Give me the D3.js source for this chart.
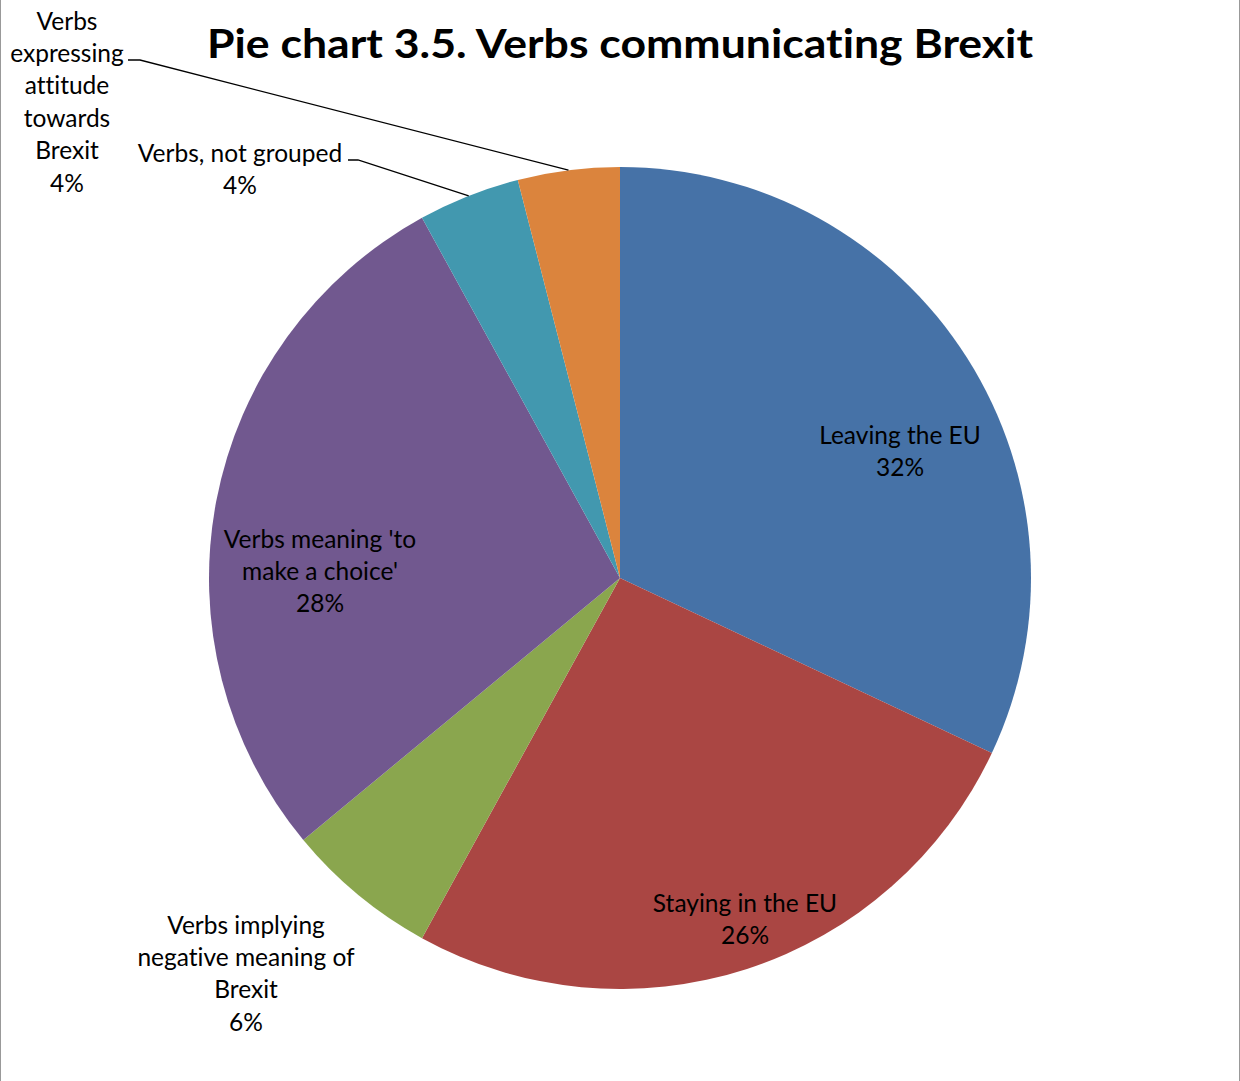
<!DOCTYPE html>
<html>
<head>
<meta charset="utf-8">
<script src="https://cdn.jsdelivr.net/npm/d3@7"></script>
<style>
  html, body { margin: 0; padding: 0; background: #fff; }
  svg { display: block; }
  text { font-family: Lato, "Open Sans", sans-serif; fill: #000;
         font-variant-ligatures: none; font-feature-settings: "liga" 0, "dlig" 0; }
</style>
</head>
<body>
<svg id="chart" width="1240" height="1081"></svg>
<script>
// Category names, shares (percent) and slice colours, in clockwise order from 12 o'clock
const categories = [
  "Leaving the EU",
  "Staying in the EU",
  "Verbs implying negative meaning of Brexit",
  "Verbs meaning 'to make a choice'",
  "Verbs, not grouped",
  "Verbs expressing attitude towards Brexit"
];
const shares = [32, 26, 6, 28, 4, 4];
const colors = ["#4672A7", "#AA4643", "#8AA64E", "#71588F", "#4298AF", "#DB843D"];

// Label text lines for each slice (the percentage is added as the last line)
const labelLines = [
  ["Leaving the EU"],
  ["Staying in the EU"],
  ["Verbs implying", "negative meaning of", "Brexit"],
  ["Verbs meaning 'to", "make a choice'"],
  ["Verbs, not grouped"],
  ["Verbs", "expressing", "attitude", "towards", "Brexit"]
];
// Label anchor (centre of first line) for each slice
const labelPos = [
  [900, 434], [745, 902], [246, 924], [320, 538], [240, 152], [67, 20]
];

const W = 1240, H = 1081;
const cx = 620, cy = 578, R = 411;
const lineH = 32.4;

const svg = d3.select("#chart");

// frame edges
svg.append("line").attr("x1", 0.5).attr("x2", 0.5).attr("y1", 0).attr("y2", H)
  .attr("stroke", "#999").attr("stroke-width", 1);
svg.append("line").attr("x1", W - 0.5).attr("x2", W - 0.5).attr("y1", 0).attr("y2", H)
  .attr("stroke", "#999").attr("stroke-width", 1);

// title
svg.append("text")
  .attr("x", 620).attr("y", 43)
  .attr("text-anchor", "middle").attr("dominant-baseline", "central")
  .attr("font-weight", "bold").attr("font-size", 40)
  .attr("textLength", 826).attr("lengthAdjust", "spacingAndGlyphs")
  .text("Pie chart 3.5. Verbs communicating Brexit");

const pie = d3.pie().sort(null).value(d => d)
  .startAngle(0).endAngle(2 * Math.PI);
const arcs = pie(shares);
const arc = d3.arc().innerRadius(0).outerRadius(R);

const g = svg.append("g").attr("transform", `translate(${cx},${cy})`);
g.selectAll("path.slice")
  .data(arcs)
  .join("path")
  .attr("class", "slice")
  .attr("d", arc)
  .attr("fill", (d, i) => colors[i]);

// leader lines for the two small outside labels
const edgePoint = (a, r) => [cx + r * Math.sin(a), cy - r * Math.cos(a)];
const leaders = [
  { i: 5, start: [128, 60], elbow: [140, 60] },
  { i: 4, start: [348, 160], elbow: [358, 160] }
];
leaders.forEach(L => {
  const a = (arcs[L.i].startAngle + arcs[L.i].endAngle) / 2;
  const p = edgePoint(a, R);
  svg.append("polyline")
    .attr("points", [L.start, L.elbow, p].map(q => q.join(",")).join(" "))
    .attr("fill", "none").attr("stroke", "#000").attr("stroke-width", 1.3);
});

// data labels
labelPos.forEach((pos, i) => {
  const lines = labelLines[i].concat([shares[i] + "%"]);
  const t = svg.append("text")
    .attr("text-anchor", "middle")
    .attr("font-size", 24.5);
  lines.forEach((ln, k) => {
    t.append("tspan")
      .attr("x", pos[0])
      .attr("y", pos[1] + k * lineH)
      .attr("dominant-baseline", "central")
      .text(ln);
  });
});
</script>
</body>
</html>
